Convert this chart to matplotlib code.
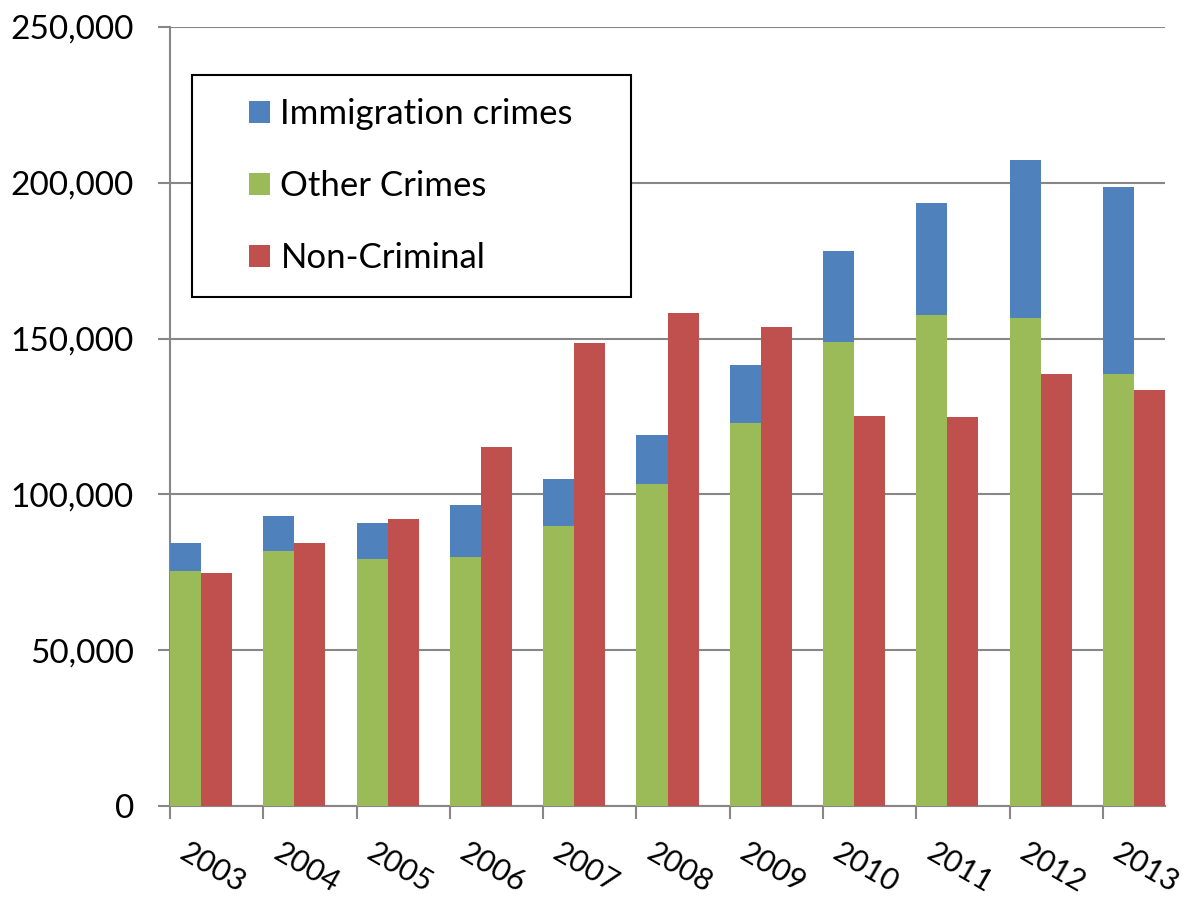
import matplotlib
matplotlib.use("Agg")
import matplotlib.pyplot as plt
import matplotlib.transforms as mtransforms
from matplotlib.patches import Rectangle
from matplotlib.ticker import FuncFormatter
import numpy as np

plt.rcParams["font.family"] = ["Lato", "DejaVu Sans"]

years = ["2003", "2004", "2005", "2006", "2007", "2008", "2009", "2010", "2011", "2012", "2013"]
other_crimes = [75400, 81800, 79300, 79900, 89900, 103300, 122900, 148800, 157600, 156500, 138500]
immigration_total = [84400, 93100, 90800, 96600, 105000, 119200, 141400, 178200, 193400, 207300, 198700]
non_criminal = [74800, 84400, 92100, 115200, 148500, 158100, 153800, 125200, 124700, 138500, 133500]
immigration = [t - o for t, o in zip(immigration_total, other_crimes)]

BLUE, GREEN, RED = "#4F81BD", "#9BBB59", "#C0504D"
GRID = "#878787"

fig = plt.figure(figsize=(11.88, 8.99), dpi=100)
ax = fig.add_axes([170 / 1188, 1 - 806 / 899, 995 / 1188, 779 / 899])

x = np.arange(len(years))
w = 1 / 3
ax.bar(x, other_crimes, width=w, align="edge", color=GREEN, label="Other Crimes", zorder=3)
ax.bar(x, immigration, width=w, bottom=other_crimes, align="edge", color=BLUE,
       label="Immigration crimes", zorder=3)
ax.bar(x + w, non_criminal, width=w, align="edge", color=RED, label="Non-Criminal", zorder=3)

ax.set_xlim(0, len(years) - 1 + 2 * w)
ax.set_ylim(0, 250000)
ax.set_yticks(np.arange(0, 250001, 50000))
ax.yaxis.set_major_formatter(FuncFormatter(lambda v, p: f"{int(v):,}"))
ax.yaxis.grid(True, color=GRID, lw=1.5, zorder=0)
ax.set_axisbelow(True)

for s in ("top", "right"):
    ax.spines[s].set_visible(False)
for s in ("left", "bottom"):
    ax.spines[s].set_color(GRID)
    ax.spines[s].set_linewidth(1.5)

ax.tick_params(axis="y", length=9, width=1.5, color=GRID, pad=17, labelsize=24)
ax.set_xticks(x)
ax.set_xticklabels(years, rotation=-30, ha="left", va="top", rotation_mode="anchor")
ax.tick_params(axis="x", length=9, width=1.5, color=GRID, pad=14, labelsize=22)
offset = mtransforms.ScaledTranslation(14 / 72, 0, fig.dpi_scale_trans)
for lab in ax.get_xticklabels():
    lab.set_transform(lab.get_transform() + offset)

# legend box
box = Rectangle((192 / 1188, 1 - 297 / 899), 439 / 1188, 222 / 899,
                transform=fig.transFigure, facecolor="white", edgecolor="black",
                lw=1.5, zorder=6)
ax.add_patch(box)
box.set_clip_on(False)

h, l = ax.get_legend_handles_labels()
order = [1, 0, 2]
leg = ax.legend([h[i] for i in order], [l[i] for i in order],
                loc="center left", bbox_to_anchor=(218 / 1188, 1 - 186 / 899),
                bbox_transform=fig.transFigure, frameon=False, fontsize=25,
                handlelength=0.6, handleheight=0.6, handletextpad=0.3,
                labelspacing=1.15)
leg.set_zorder(7)

fig.savefig("out.png", dpi=100)
